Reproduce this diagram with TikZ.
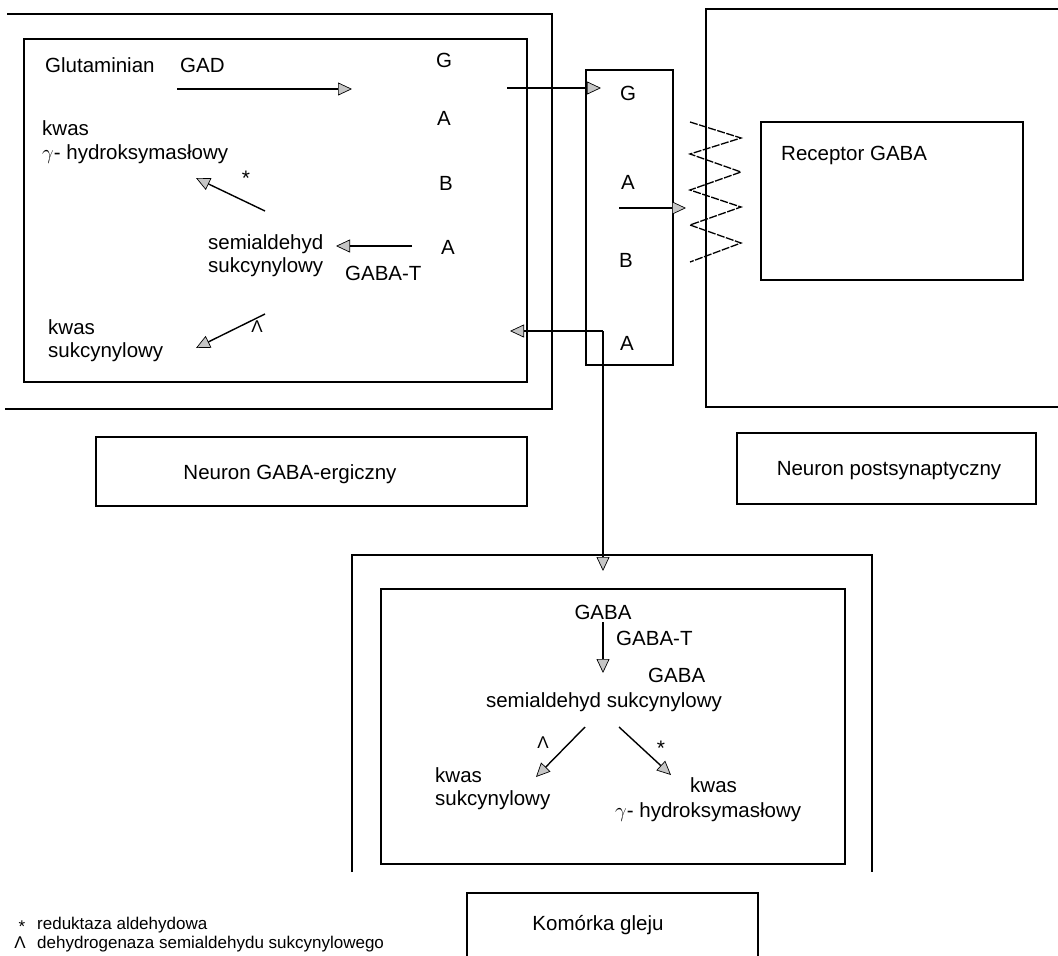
\documentclass[tikz,border=0pt]{standalone}
\usepackage{fontspec}
\setmainfont{Liberation Sans}
\usetikzlibrary{arrows.meta}
\begin{document}
\begin{tikzpicture}[x=1pt,y=-1pt,
  ln/.style={line width=1.4pt},
  ar/.style={ln,-{Triangle[length=14pt,width=13pt,fill=gray!45,line width=0.7pt]}},
  boxn/.style={draw,line width=1.4pt,inner sep=0pt,rectangle},
  txt/.style={font=\fontsize{20.5}{24}\selectfont,inner sep=0pt,text height=15pt,text depth=0.5pt},
  lt/.style={txt,anchor=west},
  sym/.style={font=\fontsize{17}{20}\selectfont,inner sep=0pt},
  ast/.style={font=\fontsize{21}{24}\selectfont,inner sep=0pt},
  legs/.style={font=\fontsize{17}{20}\selectfont,inner sep=0pt,text height=12.5pt,text depth=0.5pt},
  leg/.style={legs,anchor=west},
  zz/.style={line width=1.3pt,dash pattern=on 8pt off 1.5pt}
]
\useasboundingbox (0,0) rectangle (1058,956);

% ---- GABA-ergic neuron ----
\draw[ln] (7,14) -- (552,14) -- (552,409) -- (5,409);
\node[boxn,minimum width=503pt,minimum height=343pt] (inL) at (275.5,210.5) {};
\node[lt] (glu) at (45,65) {Glutaminian};
\node[lt] (gad) at (180,65) {GAD};
\node[txt] (g1) at (444,60) {G};
\node[txt] (a1) at (444,118) {A};
\node[txt] (b1) at (446,183) {B};
\node[txt] (a2) at (448,247) {A};
\node[lt] (kw1) at (42,128) {kwas};
\node[lt] (hy1) at (42,152) {$\gamma$- hydroksymasłowy};
\node[ast] (st1) at (246,178) {*};
\node[lt] (sem1) at (208,242) {semialdehyd};
\node[lt] (suk1) at (208,265) {sukcynylowy};
\node[lt] (gt1) at (345,273) {GABA-T};
\node[lt] (kw2) at (48,327) {kwas};
\node[lt] (suk2) at (48,350) {sukcynylowy};
\node[sym] (lam1) at (257,327) {Λ};

\coordinate (gadS) at (177,89);  \coordinate (gadE) at (352,89);
\coordinate (stS) at (265,211);  \coordinate (stE) at (196,178);
\coordinate (gtS) at (412,246);  \coordinate (gtE) at (336,246);
\coordinate (laS) at (265,314);  \coordinate (laE) at (196,348);
\coordinate (goS) at (507,88);   \coordinate (goE) at (601,88);
\draw[ar] (gadS) -- (gadE);
\draw[ar] (stS) -- (stE);
\draw[ar] (gtS) -- (gtE);
\draw[ar] (laS) -- (laE);
\draw[ar] (goS) -- (goE);

% ---- synaptic cleft ----
\node[boxn,minimum width=87pt,minimum height=295pt] (syn) at (629.5,217.5) {};
\node[txt] (sg) at (628,93) {G};
\node[txt] (sa1) at (628,182) {A};
\node[txt] (sb) at (626,260) {B};
\node[txt] (sa2) at (627,343) {A};
\coordinate (rzS) at (619,208); \coordinate (rzE) at (686,208);
\draw[ar] (rzS) -- (rzE);
\coordinate (jn) at (603,331);
\coordinate (retE) at (510,331);
\coordinate (gliaE) at (603,571);
\draw[ar] (jn) -- (retE);
\draw[ar] (jn) -- (gliaE);

% ---- postsynaptic neuron ----
\draw[ln] (1060,9) -- (706,9) -- (706,407) -- (1060,407);
\node[boxn,minimum width=262pt,minimum height=158pt] (rec) at (892,201) {};
\node[lt] (recl) at (781,153) {Receptor GABA};
\draw[zz] (690,122) -- (741,138) -- (690,154) -- (741,172) -- (690,190)
  -- (741,207) -- (690,225) -- (741,243) -- (690,262);

% ---- labels ----
\node[boxn,minimum width=431pt,minimum height=69pt] (ngb) at (311.5,471.5) {};
\node[txt] (ngbl) at (290,472) {Neuron GABA-ergiczny};
\node[boxn,minimum width=299pt,minimum height=71pt] (npb) at (886.5,468.5) {};
\node[txt] (npbl) at (889,468) {Neuron postsynaptyczny};

% ---- glial cell ----
\draw[ln] (352,872) -- (352,555) -- (872,555) -- (872,872);
\node[boxn,minimum width=464pt,minimum height=275pt] (inG) at (613,726.5) {};
\node[txt] (gaba1) at (603,612) {GABA};
\node[lt] (gt2) at (616,638) {GABA-T};
\node[lt] (gaba2) at (648,675) {GABA};
\node[txt] (ssa) at (604,700) {semialdehyd sukcynylowy};
\node[sym] (lam2) at (543,743) {Λ};
\node[ast] (st2) at (661,748) {*};
\node[lt] (kw3) at (435,775) {kwas};
\node[lt] (suk3) at (435,798) {sukcynylowy};
\node[lt] (kw4) at (690,785) {kwas};
\node[lt] (hy2) at (615,810) {$\gamma$- hydroksymasłowy};
\coordinate (g1S) at (603,622); \coordinate (g1E) at (603,673);
\coordinate (l2S) at (585,727); \coordinate (l2E) at (536,777);
\coordinate (r2S) at (619,727); \coordinate (r2E) at (671,775);
\draw[ar] (g1S) -- (g1E);
\draw[ar] (l2S) -- (l2E);
\draw[ar] (r2S) -- (r2E);

\draw[ln] (467,960) -- (467,893) -- (758,893) -- (758,960);
\node[txt] (kg) at (598,923) {Komórka gleju};

% ---- legend ----
\node[legs] (lst) at (22,926) {*};
\node[leg] (l1) at (37,923) {reduktaza aldehydowa};
\node[legs] (llam) at (20,942) {Λ};
\node[leg] (l2) at (37,942) {dehydrogenaza semialdehydu sukcynylowego};
\end{tikzpicture}
\end{document}
